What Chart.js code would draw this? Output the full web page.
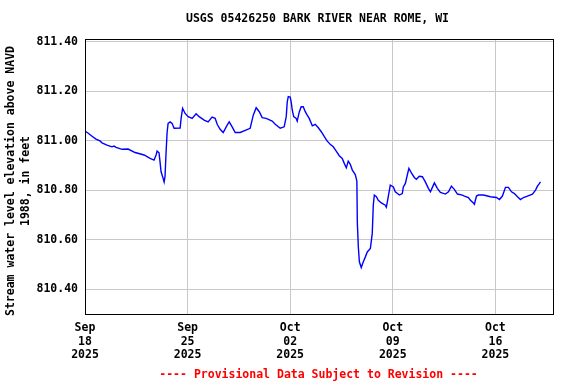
<!DOCTYPE html>
<html>
<head>
<meta charset="utf-8">
<script src="https://cdn.jsdelivr.net/npm/chart.js@4/dist/chart.umd.min.js"></script>
<style>
  html, body { margin: 0; padding: 0; background: #fff; }
  #wrap { width: 576px; height: 384px; }
</style>
</head>
<body>
<div id="wrap"><canvas id="gage_Chart"></canvas></div>
<script>
// days since Sep 18 2025 00:00
const days = [
  0.00, 0.20, 0.48, 0.75, 1.02, 1.16, 1.50, 1.84, 1.98, 2.12, 2.53, 2.94, 3.42, 4.03, 4.44, 4.71,
  4.85, 4.92, 5.05, 5.12, 5.19, 5.33, 5.40, 5.46, 5.53, 5.60, 5.67, 5.81, 5.94, 6.08, 6.49, 6.56,
  6.66, 6.83, 7.04, 7.31, 7.58, 7.79, 8.13, 8.40, 8.67, 8.88, 9.02, 9.22, 9.43, 9.70, 9.84, 10.04,
  10.25, 10.59, 11.27, 11.48, 11.68, 11.89, 12.09, 12.36, 12.77, 12.98, 13.32, 13.59, 13.73, 13.80,
  13.87, 14.00, 14.07, 14.14, 14.24, 14.41, 14.48, 14.62, 14.75, 14.89, 15.03, 15.16, 15.30, 15.51,
  15.71, 15.92, 16.12, 16.33, 16.53, 16.73, 16.94, 17.14, 17.35, 17.55, 17.69, 17.83, 17.96, 18.10,
  18.24, 18.44, 18.55, 18.58, 18.65, 18.72, 18.85, 18.99, 19.13, 19.26, 19.47, 19.60, 19.67, 19.74,
  19.88, 20.01, 20.22, 20.49, 20.56, 20.63, 20.77, 20.83, 21.04, 21.17, 21.45, 21.65, 21.72, 21.86,
  21.99, 22.10, 22.27, 22.47, 22.61, 22.81, 23.02, 23.22, 23.43, 23.57, 23.77, 23.84, 24.04, 24.25,
  24.59, 24.80, 25.00, 25.20, 25.41, 25.75, 25.89, 26.16, 26.30, 26.50, 26.57, 26.71, 26.84, 27.19,
  27.66, 28.07, 28.28, 28.48, 28.69, 28.89, 29.10, 29.30, 29.51, 29.71, 29.92, 30.19, 30.53, 30.74,
  30.87, 31.01, 31.08
];

// gage elevation, ft above NAVD 1988
const elevation = [
  811.040, 811.032, 811.019, 811.007, 811.000, 810.992, 810.983, 810.976, 810.979, 810.974, 810.966, 810.967, 810.953, 810.943, 810.929, 810.922,
  810.943, 810.959, 810.952, 810.915, 810.875, 810.849, 810.834, 810.855, 810.951, 811.033, 811.071, 811.077, 811.071, 811.051, 811.052, 811.092,
  811.132, 811.111, 811.098, 811.091, 811.110, 811.098, 811.084, 811.077, 811.096, 811.091, 811.067, 811.047, 811.034, 811.064, 811.077, 811.057,
  811.034, 811.034, 811.051, 811.104, 811.134, 811.118, 811.094, 811.091, 811.080, 811.067, 811.051, 811.057, 811.098, 811.158,
  811.179, 811.177, 811.157, 811.125, 811.098, 811.091, 811.080, 811.117, 811.138, 811.138, 811.118, 811.104, 811.091, 811.061,
  811.067, 811.053, 811.037, 811.017, 810.999, 810.986, 810.976, 810.959, 810.940, 810.929, 810.909, 810.891, 810.918, 810.905,
  810.882, 810.864, 810.837, 810.672, 810.571, 810.511, 810.488, 810.511, 810.531, 810.551, 810.565, 810.626, 810.740, 810.781,
  810.774, 810.760, 810.749, 810.740, 810.732, 810.753, 810.801, 810.821, 810.814, 810.794, 810.781, 810.787, 810.814, 810.828,
  810.862, 810.889, 810.871, 810.852, 810.845, 810.857, 810.855, 810.834, 810.808, 810.794, 810.821, 810.830, 810.808, 810.792,
  810.785, 810.794, 810.817, 810.804, 810.785, 810.781, 810.777, 810.771, 810.760, 810.749, 810.744, 810.777, 810.781, 810.781,
  810.774, 810.771, 810.763, 810.777, 810.812, 810.812, 810.794, 810.787, 810.774, 810.763, 810.771, 810.777, 810.785, 810.801,
  810.817, 810.828, 810.834
];

const xTickDays = [0, 7, 14, 21, 28];
const xTickLabels = [
  ['Sep', '18', '2025'],
  ['Sep', '25', '2025'],
  ['Oct', '02', '2025'],
  ['Oct', '09', '2025'],
  ['Oct', '16', '2025']
];
const yTicks = [810.40, 810.60, 810.80, 811.00, 811.20, 811.40];

const chartTitle = 'USGS 05426250 BARK RIVER NEAR ROME, WI';
const yTitle = ['Stream water level elevation above NAVD', '1988, in feet'];
const footNote = '---- Provisional Data Subject to Revision ----';

const FONT = '"DejaVu Sans Mono", "Liberation Mono", monospace';

// title, y axis title, footnote and the box around the plot
const decorPlugin = {
  id: 'decor',
  afterDraw(chart) {
    const { ctx, chartArea } = chart;
    const cx = (chartArea.left + chartArea.right) / 2;
    ctx.save();
    ctx.strokeStyle = '#000';
    ctx.lineWidth = 1;
    ctx.strokeRect(chartArea.left + 0.5, chartArea.top + 0.5,
      chartArea.right - chartArea.left - 1, chartArea.bottom - chartArea.top);

    ctx.font = 'bold 11.5px ' + FONT;
    ctx.textAlign = 'center';
    ctx.textBaseline = 'middle';
    ctx.fillStyle = '#000';
    ctx.fillText(chartTitle, cx - 2, 19);

    ctx.fillStyle = '#ff0000';
    ctx.fillText(footNote, cx - 1, 375);

    ctx.fillStyle = '#000';
    ctx.translate(0, 181);
    ctx.rotate(-Math.PI / 2);
    ctx.fillText(yTitle[0], 0, 11);
    ctx.fillText(yTitle[1], 0, 26);
    ctx.restore();
  }
};

const ctx_gage = document.getElementById('gage_Chart').getContext('2d');

window.gageChart = new Chart(ctx_gage, {
  type: 'line',
  data: {
    datasets: [{
      label: 'Gage elevation',
      data: days.map((d, i) => ({ x: d, y: elevation[i] })),
      borderColor: '#0000ff',
      borderWidth: 1.4,
      pointRadius: 0,
      tension: 0,
      fill: false
    }]
  },
  options: {
    responsive: true,
    maintainAspectRatio: false,
    animation: false,
    layout: { padding: { top: 39, right: 22, left: 0, bottom: 0 } },
    plugins: {
      legend: { display: false },
      title: { display: false },
      tooltip: { enabled: false }
    },
    scales: {
      x: {
        type: 'linear',
        min: 0,
        max: 32,
        afterBuildTicks: scale => { scale.ticks = xTickDays.map(v => ({ value: v })); },
        afterFit: scale => { scale.height = 70; },
        ticks: {
          autoSkip: false,
          maxRotation: 0,
          padding: 7,
          color: '#000',
          font: { family: FONT, size: 11.5, weight: 'bold', lineHeight: 1.2 },
          callback: (value) => xTickLabels[xTickDays.indexOf(value)]
        },
        grid: { color: '#c8c8c8', lineWidth: 1, drawTicks: false },
        border: { display: false }
      },
      y: {
        min: 810.30,
        max: 811.412,
        afterBuildTicks: scale => { scale.ticks = yTicks.map(v => ({ value: v })); },
        afterFit: scale => { scale.width = 85; },
        ticks: {
          padding: 7,
          color: '#000',
          font: { family: FONT, size: 11.5, weight: 'bold' },
          callback: value => value.toFixed(2)
        },
        grid: { color: '#c8c8c8', lineWidth: 1, drawTicks: false },
        border: { display: false }
      }
    }
  },
  plugins: [decorPlugin]
});
</script>
</body>
</html>
